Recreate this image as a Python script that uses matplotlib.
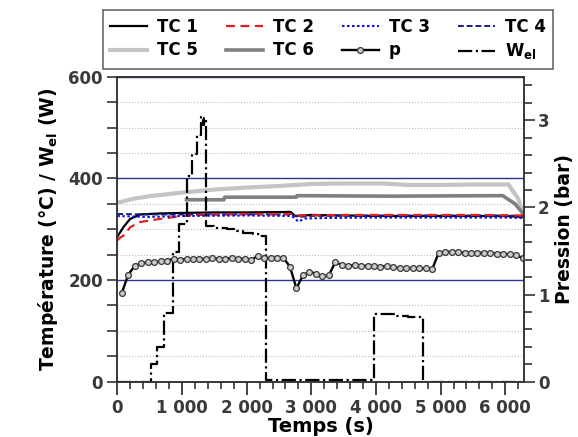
import numpy as np
import matplotlib
matplotlib.use('Agg')
import matplotlib.pyplot as plt
from matplotlib.ticker import MultipleLocator, FuncFormatter

# temperatures (left axis), time in s
t_tc1 = [0, 93, 196, 350, 660, 1000, 1500, 2000, 2680, 2750, 3000, 4000, 5000, 6000, 6280]
tc1 = [285, 304, 320, 329, 331, 332, 333, 333, 334, 326, 328, 326, 326, 326, 324]

t_tc2 = [0, 30, 100, 200, 350, 650, 1000, 1400, 2000, 2700, 2800, 3500, 4500, 5500, 6280]
tc2 = [278, 282, 288, 304, 314, 320, 326, 329, 330, 330, 327, 328, 328, 328, 327]

t_tc3 = [0, 500, 1000, 2000, 2700, 2800, 2900, 3200, 4000, 5000, 6000, 6280]
tc3 = [326, 324, 326, 327, 326, 315, 321, 322, 323, 323, 323, 322]

t_tc4 = [0, 500, 1000, 2000, 2700, 2800, 3000, 4000, 5000, 6000, 6280]
tc4 = [330, 329, 329, 329, 329, 324, 326, 327, 327, 327, 326]

t_tc5 = [0, 250, 500, 1000, 1500, 2000, 2500, 3000, 3500, 4100, 4500, 5000, 5500, 6050, 6200, 6280]
tc5 = [352, 360, 365, 372, 378, 382, 385, 389, 390, 390, 387, 387, 388, 388, 360, 328]

t_tc6 = [1070, 1650, 1660, 2770, 2780, 4200, 5960, 6150, 6280]
tc6 = [358, 358, 363, 363, 366, 365, 366, 350, 330]

# electrical power (left axis), step signal
t_wel = [0, 516, 619, 727, 866, 960, 1082, 1150, 1227, 1290, 1320, 1340, 1371, 1500, 1700,
         1850, 1950, 2100, 2200, 2293, 3973, 4300, 4500, 4730, 6290]
wel = [0, 34, 69, 136, 256, 310, 404, 448, 486, 520, 505, 518, 306, 303, 300,
       296, 293, 290, 286, 3, 133, 130, 127, 0, 0]

# pressure (right axis)
t_p = list(range(70, 6300, 100))
p = [1.02, 1.23, 1.33, 1.36, 1.37, 1.37, 1.38, 1.39, 1.41, 1.40,
     1.41, 1.41, 1.41, 1.41, 1.42, 1.41, 1.41, 1.42, 1.41, 1.41,
     1.40, 1.44, 1.42, 1.42, 1.42, 1.42, 1.32, 1.07, 1.22, 1.26,
     1.24, 1.21, 1.22, 1.37, 1.34, 1.33, 1.34, 1.33, 1.33, 1.33,
     1.32, 1.33, 1.32, 1.30, 1.30, 1.31, 1.30, 1.30, 1.29, 1.48,
     1.49, 1.49, 1.49, 1.48, 1.48, 1.48, 1.48, 1.48, 1.47, 1.47,
     1.46, 1.45, 1.42]

tick_col = '#3a3a3a'
bold = dict(fontweight='bold')

fig = plt.figure(figsize=(5.78, 4.37), dpi=100)
ax = fig.add_axes([0.203, 0.1265, 0.7036, 0.698])
ax2 = ax.twinx()

l5, = ax.plot(t_tc5, tc5, color='#c4c4c4', lw=3, label='TC 5')
l6, = ax.plot(t_tc6, tc6, color='#808080', lw=2.6, label='TC 6')
l1, = ax.plot(t_tc1, tc1, color='black', lw=1.6, label='TC 1')
l4, = ax.plot(t_tc4, tc4, color='#1b1b80', lw=1.4, ls=(0, (3, 1.5)), label='TC 4')
l2, = ax.plot(t_tc2, tc2, color='#e02020', lw=1.6, ls=(0, (4, 2.5)), label='TC 2')
l3, = ax.plot(t_tc3, tc3, color='#1010e0', lw=1.5, ls=(0, (1.2, 1.2)), label='TC 3')
lw_, = ax.plot(t_wel, wel, color='black', lw=1.6, ls='-.', drawstyle='steps-post',
               label=r'W$_\mathbf{el}$')
lp, = ax2.plot(t_p, p, color='black', lw=1.7, marker='o', ms=4.2,
               mfc='#cccccc', mec='#383838', mew=0.9, label='p')

ax.set_xlim(0, 6290)
ax.set_ylim(0, 600)
ax2.set_ylim(0, 3.5)

ax.xaxis.set_major_locator(MultipleLocator(1000))
ax.xaxis.set_minor_locator(MultipleLocator(200))
ax.yaxis.set_major_locator(MultipleLocator(200))
ax.yaxis.set_minor_locator(MultipleLocator(50))
ax2.yaxis.set_major_locator(MultipleLocator(1))
ax2.yaxis.set_minor_locator(MultipleLocator(0.2))
ax.xaxis.set_major_formatter(FuncFormatter(lambda v, pos: '{:,}'.format(int(v)).replace(',', ' ')))

ax.grid(which='minor', axis='y', ls=':', color='#bbbbbb', lw=0.8)
ax.grid(which='major', axis='y', ls='-', color='#2a3590', lw=1)
ax.set_axisbelow(True)

ax.tick_params(axis='x', which='major', length=9, width=1.2, colors='#222222', labelcolor=tick_col, labelsize=12)
ax.tick_params(axis='x', which='minor', length=5, width=1.1, colors='#222222')
ax.tick_params(axis='y', which='both', length=7, width=1.1, colors='#222222', labelcolor=tick_col, labelsize=12)
ax2.tick_params(axis='y', which='major', length=8, width=1.1, colors='#222222', labelcolor=tick_col,
                labelsize=12, pad=2)
ax2.tick_params(axis='y', which='minor', length=6, width=1.1, colors='#222222')
for lab in ax.get_xticklabels() + ax.get_yticklabels() + ax2.get_yticklabels():
    lab.set_fontweight('bold')

for a in (ax, ax2):
    for s in a.spines.values():
        s.set_color('#333333')
        s.set_linewidth(1.1)

ax.set_xlabel('Temps (s)', fontsize=14, labelpad=0, **bold)
ax.set_ylabel(r'Température (°C) / W$_\mathbf{el}$ (W)', fontsize=13.5, labelpad=6, **bold)
ax2.set_ylabel('Pression (bar)', fontsize=13.5, labelpad=4, **bold)

# legend filled column-wise -> order so rows read TC1..TC4 / TC5, TC6, p, Wel
handles = [l1, l5, l2, l6, l3, lp, l4, lw_]
leg = fig.legend(handles, [h.get_label() for h in handles], ncol=4,
                 loc='upper left', bbox_to_anchor=(0.178, 0.977, 0.779, 0.0), mode='expand',
                 borderaxespad=0,
                 prop={'weight': 'bold', 'size': 12}, fancybox=False, edgecolor='#333333',
                 handlelength=2.2, handletextpad=0.6, columnspacing=0.8, borderpad=0.45,
                 labelspacing=0.35)
leg.get_frame().set_linewidth(1.1)

fig.savefig('out.png', dpi=100)
